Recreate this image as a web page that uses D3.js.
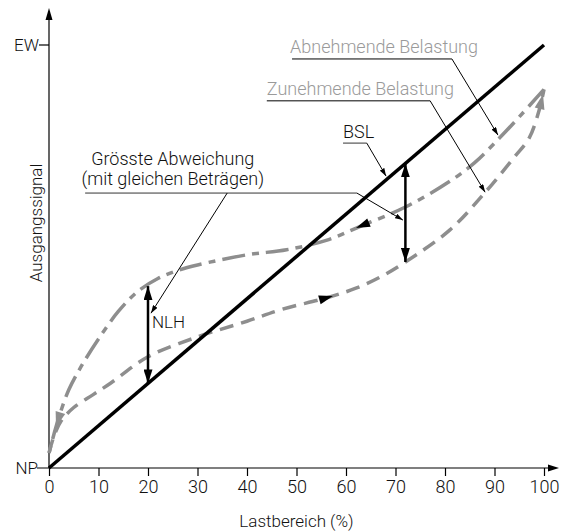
<!DOCTYPE html>
<html>
<head>
<meta charset="utf-8">
<script src="https://cdn.jsdelivr.net/npm/d3@7"></script>
<style>
body { margin: 0; background: #fff; }
text { font-family: Roboto, "Liberation Sans", sans-serif; font-weight: 300; fill: #111; }
</style>
</head>
<body>
<svg id="chart" width="565" height="531"></svg>
<script>
var width = 565;
var height = 531;

// tick labels on the load axis
var xTicks = [0, 10, 20, 30, 40, 50, 60, 70, 80, 90, 100];

// best straight line (BSL), load % -> signal %
var bslLoad = [0, 100];
var bslSignal = [0, 100];

// increasing load (lower curve)
var riseLoad = [0, 1, 2.5, 5, 9, 12.5, 20, 30, 40, 47, 56, 62, 67, 72, 81, 88, 94, 97, 99, 100];
var riseSignal = [3.5, 7.5, 11.2, 14.3, 17.4, 20.1, 26.3, 31, 34.7, 37.5, 40.2, 42.5, 45.2, 48.7, 56.3, 65, 73.5, 78, 84.5, 89.5];

// decreasing load (upper curve)
var fallLoad = [0, 1, 2, 4, 6.5, 10, 14, 18, 22, 26, 30, 40, 48, 56, 63, 72, 81, 86, 91, 95, 100];
var fallSignal = [3.5, 8, 12, 18.5, 24, 30.5, 37, 41.8, 44.8, 46.7, 48, 50.4, 51.6, 53.8, 57.2, 61.7, 67.8, 72.2, 78, 83, 89.5];

// largest deviations: [load, from signal, to signal]
var nlhSpan = [20, 43, 20];
var maxSpan = [72, 72, 48.7];

var x = d3.scaleLinear().domain([0, 100]).range([49, 544]);
var y = d3.scaleLinear().domain([0, 100]).range([468, 45]);

var svg = d3.select("#chart");
var gray = "#8e8e8e";

var defs = svg.append("defs");
function marker(id, len, half, color) {
    defs.append("marker")
        .attr("id", id)
        .attr("markerUnits", "userSpaceOnUse")
        .attr("viewBox", "0 0 " + len + " " + (half * 2))
        .attr("markerWidth", len)
        .attr("markerHeight", half * 2)
        .attr("refX", len)
        .attr("refY", half)
        .attr("orient", "auto-start-reverse")
        .append("path")
        .attr("d", "M0,0L" + len + "," + half + "L0," + (half * 2) + "Z")
        .attr("fill", color);
}
marker("big", 14, 4.5, "#000");
marker("small", 8, 2.6, "#000");

// axes
svg.append("line")
    .attr("x1", x(0) - 12).attr("x2", 550)
    .attr("y1", y(0)).attr("y2", y(0))
    .attr("stroke", "#000").attr("stroke-width", 1.2);
svg.append("path")
    .attr("d", "M548," + (y(0) - 3.5) + "L559," + y(0) + "L548," + (y(0) + 3.5) + "Z");
svg.append("line")
    .attr("x1", x(0)).attr("x2", x(0))
    .attr("y1", y(0)).attr("y2", 18)
    .attr("stroke", "#000").attr("stroke-width", 1.2);
svg.append("path")
    .attr("d", "M" + (x(0) - 3.5) + ",20L" + x(0) + ",8L" + (x(0) + 3.5) + ",20Z");
svg.append("line")
    .attr("x1", x(0) - 10).attr("x2", x(0))
    .attr("y1", y(100)).attr("y2", y(100))
    .attr("stroke", "#000").attr("stroke-width", 1.2);

var xAxis = svg.append("g")
    .attr("transform", "translate(0," + y(0) + ")")
    .call(d3.axisBottom(x).tickValues(xTicks).tickSize(8).tickPadding(4));
xAxis.select(".domain").remove();
xAxis.selectAll("line").attr("stroke-width", 1.2);
xAxis.selectAll("text")
    .style("font-family", "Roboto, 'Liberation Sans', sans-serif")
    .style("font-weight", 300)
    .style("font-size", "18px")
    .attr("fill", "#111");

svg.append("text").attr("x", x(0) - 10).attr("y", y(100) + 6)
    .attr("text-anchor", "end").style("font-size", "17px").text("EW");
svg.append("text").attr("x", x(0) - 11).attr("y", y(0) + 6)
    .attr("text-anchor", "end").style("font-size", "17px").text("NP");

svg.append("text").attr("x", (x(0) + x(100)) / 2).attr("y", 527)
    .attr("text-anchor", "middle").style("font-size", "17px").text("Lastbereich (%)");
svg.append("text")
    .attr("transform", "translate(42," + 223 + ") rotate(-90)")
    .attr("text-anchor", "middle").style("font-size", "17px").text("Ausgangssignal");

// curves
var line = d3.line()
    .x(function (d) { return x(d[0]); })
    .y(function (d) { return y(d[1]); })
    .curve(d3.curveCatmullRom.alpha(0.5));

var risePts = d3.zip(riseLoad, riseSignal);
var fallPts = d3.zip(fallLoad, fallSignal).reverse();

var risePath = svg.append("path")
    .attr("d", line(risePts))
    .attr("fill", "none").attr("stroke", gray).attr("stroke-width", 3.5)
    .attr("stroke-dasharray", "14,8");
var fallPath = svg.append("path")
    .attr("d", line(fallPts))
    .attr("fill", "none").attr("stroke", gray).attr("stroke-width", 3.5)
    .attr("stroke-dasharray", "23,7,7,7");

svg.append("path")
    .attr("d", line.curve(d3.curveLinear)(d3.zip(bslLoad, bslSignal)))
    .attr("fill", "none").attr("stroke", "#000").attr("stroke-width", 3.5);

// arrowhead along a path, at the point whose x is closest to px
function arrowOn(path, px, len, half, color) {
    var node = path.node();
    var total = node.getTotalLength();
    var best = 0, bestD = Infinity;
    for (var l = 0; l <= total; l += 0.5) {
        var p = node.getPointAtLength(l);
        var d = Math.abs(p.x - px);
        if (d < bestD) { bestD = d; best = l; }
    }
    var tip = node.getPointAtLength(best);
    var back = node.getPointAtLength(Math.max(0, best - len));
    var a = Math.atan2(tip.y - back.y, tip.x - back.x);
    var bx = tip.x - len * Math.cos(a), by = tip.y - len * Math.sin(a);
    var nx = -Math.sin(a) * half, ny = Math.cos(a) * half;
    svg.append("path")
        .attr("d", "M" + tip.x + "," + tip.y + "L" + (bx + nx) + "," + (by + ny) + "L" + (bx - nx) + "," + (by - ny) + "Z")
        .attr("fill", color);
}
arrowOn(risePath, 333, 14, 4.5, "#000");
arrowOn(risePath, 543, 15, 5, gray);
arrowOn(fallPath, 356, 14, 4.5, "#000");
arrowOn(fallPath, 56, 15, 5, gray);

// deviation arrows
[nlhSpan, maxSpan].forEach(function (s) {
    svg.append("line")
        .attr("x1", x(s[0])).attr("x2", x(s[0]))
        .attr("y1", y(s[1])).attr("y2", y(s[2]))
        .attr("stroke", "#000").attr("stroke-width", 2.5)
        .attr("marker-start", "url(#big)").attr("marker-end", "url(#big)");
});

svg.append("text").attr("x", x(20.8)).attr("y", y(33.1))
    .style("font-size", "17px").text("NLH");

// annotations with leader lines
function leader(pts, color) {
    svg.append("path")
        .attr("d", d3.line().x(function (d) { return x(d[0]); }).y(function (d) { return y(d[1]); })(pts))
        .attr("fill", "none").attr("stroke", color || "#000").attr("stroke-width", 1)
        .attr("marker-end", "url(#small)");
}

svg.append("text").attr("x", x(25)).attr("y", y(71.6))
    .attr("text-anchor", "middle").style("font-size", "18px").text("Grösste Abweichung");
svg.append("text").attr("x", x(25)).attr("y", y(66.9))
    .attr("text-anchor", "middle").style("font-size", "18px").text("(mit gleichen Beträgen)");
svg.append("line")
    .attr("x1", x(7.3)).attr("x2", x(62.2)).attr("y1", y(65)).attr("y2", y(65))
    .attr("stroke", "#333").attr("stroke-width", 1);
leader([[36, 65], [20.6, 36.6]]);
leader([[62.2, 65], [71.5, 58.6]]);

svg.append("text").attr("x", x(59.4)).attr("y", y(78))
    .style("font-size", "18px").text("BSL");
svg.append("line")
    .attr("x1", x(59.4)).attr("x2", x(64.2)).attr("y1", y(76.8)).attr("y2", y(76.8))
    .attr("stroke", "#777").attr("stroke-width", 1.5);
leader([[64.2, 76.8], [68.1, 69]]);

svg.append("text").attr("x", x(48.7)).attr("y", y(98.1))
    .style("font-size", "18px").style("fill", "#9a9a9a").text("Abnehmende Belastung");
leader([[49.1, 96.7], [81.4, 96.7], [90.7, 78.7]]);

svg.append("text").attr("x", x(44)).attr("y", y(88.2))
    .style("font-size", "18px").style("fill", "#9a9a9a").text("Zunehmende Belastung");
leader([[44, 86.8], [77, 86.8], [88.1, 65.2]]);
</script>
</body>
</html>
